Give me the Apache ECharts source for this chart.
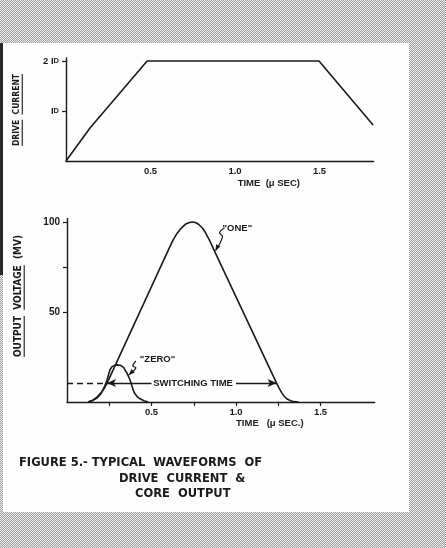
<!DOCTYPE html>
<html><head><meta charset="utf-8">
<script src="https://cdn.jsdelivr.net/npm/echarts@6/dist/echarts.min.js"></script>
<style>
html,body{margin:0;padding:0;}
body{width:446px;height:548px;background:#c8c8c8 repeating-conic-gradient(#9c9c9c 0 25%, #f0f0f0 0 50%) 0 0/2px 2px;}
#chart{width:446px;height:548px;}
</style></head><body><div id="chart"></div>
<script>
// ---- data (time in microseconds) ----
const driveTime = [0, 0.142, 0.48, 1.497, 1.817];
const driveCurrent = [0, 0.66, 2, 2, 0.72];           // in units of I_D

const oneTime = [0.125,0.15,0.175,0.2,0.22,0.237,0.6,0.625,0.65,0.675,0.7,0.72,0.74,0.76,0.78,0.80,0.82,0.845,0.877,1.24,1.255,1.27,1.285,1.30,1.32,1.34,1.37];
const oneVolt = [0,0.8,2.5,5,7.5,10.5,84.5,89.5,93.5,96.5,98.7,99.6,100,99.7,98.6,96.8,94,89.5,83,10.5,7.7,5.2,3.2,1.8,0.8,0.2,0];

const zeroTime = [0.125,0.15,0.178,0.2,0.213,0.225,0.237,0.245,0.254,0.265,0.275,0.284,0.3,0.315,0.325,0.335,0.343,0.355,0.365,0.373,0.38,0.39,0.40,0.415,0.43,0.455,0.48];
const zeroVolt = [0,0.8,2.2,4.5,6.7,9.3,12.2,15,17.8,19.5,20.3,20.5,20.6,20.4,20,19.2,17.8,16,14,12.2,10.3,7,4.8,3,1.9,0.7,0];

const switchLevel = 10.5;               // mV
const switchStart = 0.237, switchEnd = 1.24;

const topXTicks = [0.5, 1.0, 1.5];
const topXLabels = ['0.5', '1.0', '1.5'];
const topYTicks = [1, 2];
const topYLabels = ['I{s|D}', '2 I{s|D}'];
const botXTicks = [0.25, 0.5, 0.75, 1.0, 1.25, 1.5];
const botXLabelVals = [0.5, 1.0, 1.5];
const botXLabels = ['0.5', '1.0', '1.5'];
const botYTicks = [50, 75, 100];
const botYLabelVals = [50, 100];
const botYLabels = ['50', '100'];

// ---- drawing ----
const INK = '#1a1a1a';
const PAPER = '#fdfdfd';
const FONT = "'Liberation Sans', Arial, sans-serif";
const NARROW = "'Liberation Sans Narrow', 'DejaVu Sans Condensed', sans-serif";
const CAP = "'DejaVu Sans', sans-serif";
const zip = (a, b) => a.map((v, i) => [v, b[i]]);
const labelFor = (vals, labels) => v => {
  const i = vals.findIndex(x => Math.abs(x - v) < 1e-6);
  return i < 0 ? '' : labels[i];
};

const chart = echarts.init(document.getElementById('chart'), null, {renderer: 'canvas'});
const axisLine = {show: true, lineStyle: {color: INK, width: 1.4}};
const option = {
  animation: false,
  backgroundColor: 'transparent',
  grid: [
    {left: 66, top: 58, width: 307.6, height: 103},
    {left: 67, top: 218.4, width: 307.6, height: 183.6}
  ],
  xAxis: [
    {type: 'value', gridIndex: 0, min: 0, max: 1.82, axisLine,
     splitLine: {show: false}, axisTick: {show: false},
     axisLabel: {customValues: topXTicks, formatter: labelFor(topXTicks, topXLabels),
       color: INK, fontFamily: FONT, fontWeight: 'bold', fontSize: 9.5, margin: 5}},
    {type: 'value', gridIndex: 1, min: 0, max: 1.82, axisLine,
     splitLine: {show: false},
     axisTick: {show: true, customValues: botXTicks, length: 4, lineStyle: {color: INK, width: 1.2}},
     axisLabel: {customValues: botXLabelVals, formatter: labelFor(botXLabelVals, botXLabels),
       color: INK, fontFamily: FONT, fontWeight: 'bold', fontSize: 9.5, margin: 5}}
  ],
  yAxis: [
    {type: 'value', gridIndex: 0, min: 0, max: 2.06, axisLine, splitLine: {show: false},
     axisTick: {show: true, customValues: topYTicks, length: 4, lineStyle: {color: INK, width: 1.2}},
     axisLabel: {customValues: topYTicks, formatter: labelFor(topYTicks, topYLabels),
       color: INK, fontFamily: FONT, fontWeight: 'bold', fontSize: 9.5, margin: 7,
       rich: {s: {fontSize: 7.5, fontFamily: FONT, fontWeight: 'bold', color: INK}}}},
    {type: 'value', gridIndex: 1, min: 0, max: 102, axisLine, splitLine: {show: false},
     axisTick: {show: true, customValues: botYTicks, length: 4, lineStyle: {color: INK, width: 1.2}},
     axisLabel: {customValues: botYLabelVals, formatter: labelFor(botYLabelVals, botYLabels),
       color: INK, fontFamily: FONT, fontWeight: 'bold', fontSize: 10, margin: 7}}
  ],
  series: [
    {type: 'line', xAxisIndex: 0, yAxisIndex: 0, data: zip(driveTime, driveCurrent),
     symbol: 'none', lineStyle: {color: INK, width: 1.6}},
    {type: 'line', xAxisIndex: 1, yAxisIndex: 1, data: zip(oneTime, oneVolt),
     symbol: 'none', lineStyle: {color: INK, width: 1.6},
     markLine: {
       silent: true, symbol: ['none', 'none'], symbolSize: [6, 9],
       label: {show: false},
       lineStyle: {color: INK, width: 1.3, type: 'solid'},
       data: [
         [{coord: [0, switchLevel], lineStyle: {type: [6, 4], color: INK, width: 1.3}},
          {coord: [switchStart - 0.005, switchLevel]}],
         [{coord: [switchStart, switchLevel], symbol: 'arrow'},
          {coord: [0.5, switchLevel], symbol: 'none'}],
         [{coord: [1.0, switchLevel], symbol: 'none'},
          {coord: [switchEnd, switchLevel], symbol: 'arrow'}]
       ]
     }},
    {type: 'line', xAxisIndex: 1, yAxisIndex: 1, data: zip(zeroTime, zeroVolt),
     symbol: 'none', lineStyle: {color: INK, width: 1.6}}
  ]
};
chart.setOption(option);

// ---- annotations placed through the chart's own scales ----
const px = (g, x, y) => chart.convertToPixel({gridIndex: g}, [x, y]);
const ctx = document.createElement('canvas').getContext('2d');
const measure = (text, font) => { ctx.font = font; return ctx.measureText(text).width; };

const g = [];
// paper panel
g.push({type: 'rect', z: -10, shape: {x: 3, y: 43, width: 406, height: 469}, style: {fill: PAPER}});
g.push({type: 'rect', z: -10, shape: {x: 0, y: 43, width: 3, height: 232}, style: {fill: '#2a2a2a'}});

// axis titles (x)
const tTop = px(0, 1.2, 0), tBot = px(1, 1.2, 0);
g.push({type: 'text', x: tTop[0], y: tTop[1] + 22, style: {text: 'TIME  (\u03BC SEC)', font: 'bold 9.5px ' + FONT, fill: INK, align: 'center', verticalAlign: 'middle'}});
g.push({type: 'text', x: tBot[0], y: tBot[1] + 21, style: {text: 'TIME   (\u03BC SEC.)', font: 'bold 9.5px ' + FONT, fill: INK, align: 'center', verticalAlign: 'middle'}});

// rotated y titles with underlined words
function rotated(words, underline, cx, cy, size) {
  const font = 'bold ' + size + 'px ' + NARROW;
  const sep = '  ';
  const text = words.join(sep);
  const total = measure(text, font);
  g.push({type: 'text', x: cx, y: cy, rotation: Math.PI / 2,
    style: {text, font, fill: INK, align: 'center', verticalAlign: 'middle'}});
  let start = cy + total / 2;
  words.forEach((w, i) => {
    const ww = measure(w, font);
    if (underline[i]) {
      g.push({type: 'line', shape: {x1: cx + size * 0.62, y1: start, x2: cx + size * 0.62, y2: start - ww},
        style: {stroke: INK, lineWidth: 1.1}});
    }
    start -= ww + measure(sep, font);
  });
}
rotated(['DRIVE', 'CURRENT'], [true, true], 17, 110, 8.5);
rotated(['OUTPUT', 'VOLTAGE', '(MV)'], [true, true, false], 18, 296, 10);

// switching time label
const sw = px(1, 0.746, switchLevel);
g.push({type: 'text', x: sw[0], y: sw[1], style: {text: 'SWITCHING TIME', font: 'bold 9.5px ' + FONT, fill: INK, align: 'center', verticalAlign: 'middle'}});

// leader with arrow head
function leader(tip, pts) {
  const abs = pts.map(p => [tip[0] + p[0], tip[1] + p[1]]);
  g.push({type: 'polyline', shape: {points: abs.concat([tip]), smooth: 0.4}, style: {stroke: INK, lineWidth: 1.2, fill: null}});
  const last = abs[abs.length - 1];
  const ang = Math.atan2(tip[1] - last[1], tip[0] - last[0]);
  const L = 6, W = 2.4;
  const bx = tip[0] - L * Math.cos(ang), by = tip[1] - L * Math.sin(ang);
  g.push({type: 'polygon', shape: {points: [tip,
    [bx + W * Math.sin(ang), by - W * Math.cos(ang)],
    [bx - W * Math.sin(ang), by + W * Math.cos(ang)]]}, style: {fill: INK}});
}
const oneTip = px(1, 0.873, 83.5);
leader([oneTip[0] + 1, oneTip[1] - 1], [[9, -23], [4, -18], [7, -14]]);
g.push({type: 'text', x: oneTip[0] + 8, y: oneTip[1] - 23, style: {text: '"ONE"', font: 'bold 9.5px ' + FONT, fill: INK, align: 'left', verticalAlign: 'middle'}});

const zeroTip = px(1, 0.36, 15);
leader([zeroTip[0] + 1, zeroTip[1]], [[7, -14], [4, -9], [7, -7]]);
g.push({type: 'text', x: zeroTip[0] + 12, y: zeroTip[1] - 16, style: {text: '"ZERO"', font: 'bold 9.5px ' + FONT, fill: INK, align: 'left', verticalAlign: 'middle'}});

// caption
const capFont = 'bold 11.5px ' + CAP;
g.push({type: 'text', x: 19, y: 463, style: {text: 'FIGURE 5.- TYPICAL  WAVEFORMS  OF', font: capFont, fill: INK, align: 'left', verticalAlign: 'middle'}});
g.push({type: 'text', x: 119, y: 479, style: {text: 'DRIVE  CURRENT  &', font: capFont, fill: INK, align: 'left', verticalAlign: 'middle'}});
g.push({type: 'text', x: 135, y: 494, style: {text: 'CORE  OUTPUT', font: capFont, fill: INK, align: 'left', verticalAlign: 'middle'}});

chart.setOption({graphic: {elements: g}});
</script></body></html>
